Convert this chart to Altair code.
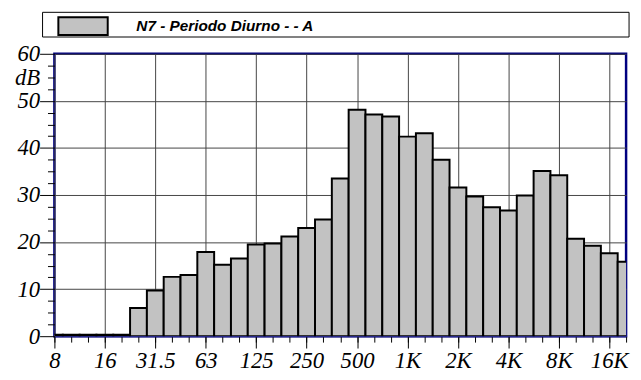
import altair as alt
import pandas as pd

bands = ["8", "10", "12.5", "16", "20", "25", "31.5", "40", "50", "63", "80", "100",
         "125", "160", "200", "250", "315", "400", "500", "630", "800", "1K", "1.25K",
         "1.6K", "2K", "2.5K", "3.15K", "4K", "5K", "6.3K", "8K", "10K", "12.5K", "16K", "20K"]
levels = [0.3, 0.3, 0.3, 0.3, 0.3, 6.0, 9.7, 12.6, 13.0, 17.9, 15.2, 16.5,
          19.5, 19.7, 21.2, 23.0, 24.8, 33.5, 48.1, 47.1, 46.7, 42.4, 43.1,
          37.5, 31.6, 29.7, 27.4, 26.7, 29.9, 35.1, 34.2, 20.7, 19.2, 17.6, 15.8]
x_labels = ["8", "16", "31.5", "63", "125", "250", "500", "1K", "2K", "4K", "8K", "16K"]
y_major = [0, 10, 20, 30, 40, 50, 60]
y_minor = [2.5, 5, 7.5, 12.5, 15, 17.5, 22.5, 25, 27.5, 32.5, 35, 37.5,
           42.5, 45, 47.5, 52.5, 55, 57.5]
series_name = "N7 - Periodo Diurno -  - A"

n = len(bands)
df = pd.DataFrame({
    "band": bands,
    "idx": list(range(n)),
    "lo": [i - 0.5 for i in range(n)],
    "hi": [i + 0.5 for i in range(n)],
    "value": levels,
    "series": [series_name] * n,
})

serif = "Liberation Serif"
xscale = alt.Scale(domain=[0, n - 1], nice=False, zero=False)
yscale = alt.Scale(domain=[0, 60], nice=False)
label_arr = "[" + ",".join("'" + s + "'" for s in x_labels) + "]"
lab = dict(labelFont=serif, labelFontStyle="italic", labelFontSize=23, labelColor="black")

x_major_axis = alt.Axis(
    orient="bottom", values=list(range(0, n - 1, 3)), title=None,
    labelExpr=label_arr + "[round(datum.value/3)]",
    labelPadding=2, labelFlush=False, labelOverlap=False,
    tickSize=12, tickColor="black", tickWidth=1,
    grid=True, gridColor="#444", gridWidth=1, domain=True, domainColor="#2a2acc", domainWidth=1,
    **lab,
)
y_major_axis = alt.Axis(
    orient="left", values=y_major, title=None,
    labelPadding=0, labelFlush=False, labelOverlap=False, labelBaseline="middle",
    tickSize=15, tickColor="black", tickWidth=1,
    grid=True, gridColor="#444", gridWidth=1, domain=False,
    **lab,
)
x_minor_axis = alt.Axis(
    orient="bottom", values=list(range(n)), title=None, labels=False,
    tickSize=6, tickColor="black", tickWidth=1, grid=False, domain=False,
)
y_minor_axis = alt.Axis(
    orient="left", values=y_minor, title=None,
    labelExpr="datum.value == 55 ? 'dB' : ''",
    labelPadding=8, labelOverlap=False, labelFlush=False, labelBaseline="middle",
    tickSize=7, tickColor="black", tickWidth=1, grid=False, domain=False,
    **lab,
)

bars = alt.Chart(df).mark_bar(stroke="black", strokeWidth=2, clip=True, opacity=1).encode(
    x=alt.X("lo:Q", scale=xscale, axis=x_major_axis),
    x2="hi:Q",
    y=alt.Y("value:Q", scale=yscale, axis=y_major_axis, stack=None),
    y2=alt.datum(0),
    fill=alt.Fill("series:N", scale=alt.Scale(range=["#c2c2c2"]),
                  legend=alt.Legend(
                      orient="none", legendX=3, legendY=-54, title=None,
                      symbolType="M-1,-0.36H1V0.36H-1Z", symbolSize=2500,
                      symbolStrokeColor="black", symbolStrokeWidth=2, symbolOpacity=1,
                      labelFont="Liberation Sans", labelFontSize=15.5,
                      labelFontStyle="italic",
                      labelFontWeight="bold", labelColor="black", labelOffset=28,
                      labelLimit=500, padding=0)),
)

minor = alt.Chart(df).mark_point(opacity=0).encode(
    x=alt.X("idx:Q", scale=xscale, axis=x_minor_axis),
    y=alt.Y("value:Q", scale=yscale, axis=y_minor_axis),
)

legend_box = alt.Chart(pd.DataFrame({"k": [0]})).mark_rect(
    fill="white", fillOpacity=0, stroke="black", strokeWidth=1, clip=False
).encode(
    x=alt.value(-12), x2=alt.value(582), y=alt.value(-42), y2=alt.value(-17)
)

chart = alt.layer(minor, bars, legend_box).resolve_axis(
    x="independent", y="independent"
).properties(
    width=579, height=286,
    autosize=alt.AutoSizeParams(type="none"),
    padding={"left": 47, "top": 44, "right": 7, "bottom": 42},
).configure_view(
    stroke="#000080", strokeWidth=2.5
).configure_axis(
    **lab
)

chart.save("out.html", embed_options={"renderer": "svg", "actions": False})
